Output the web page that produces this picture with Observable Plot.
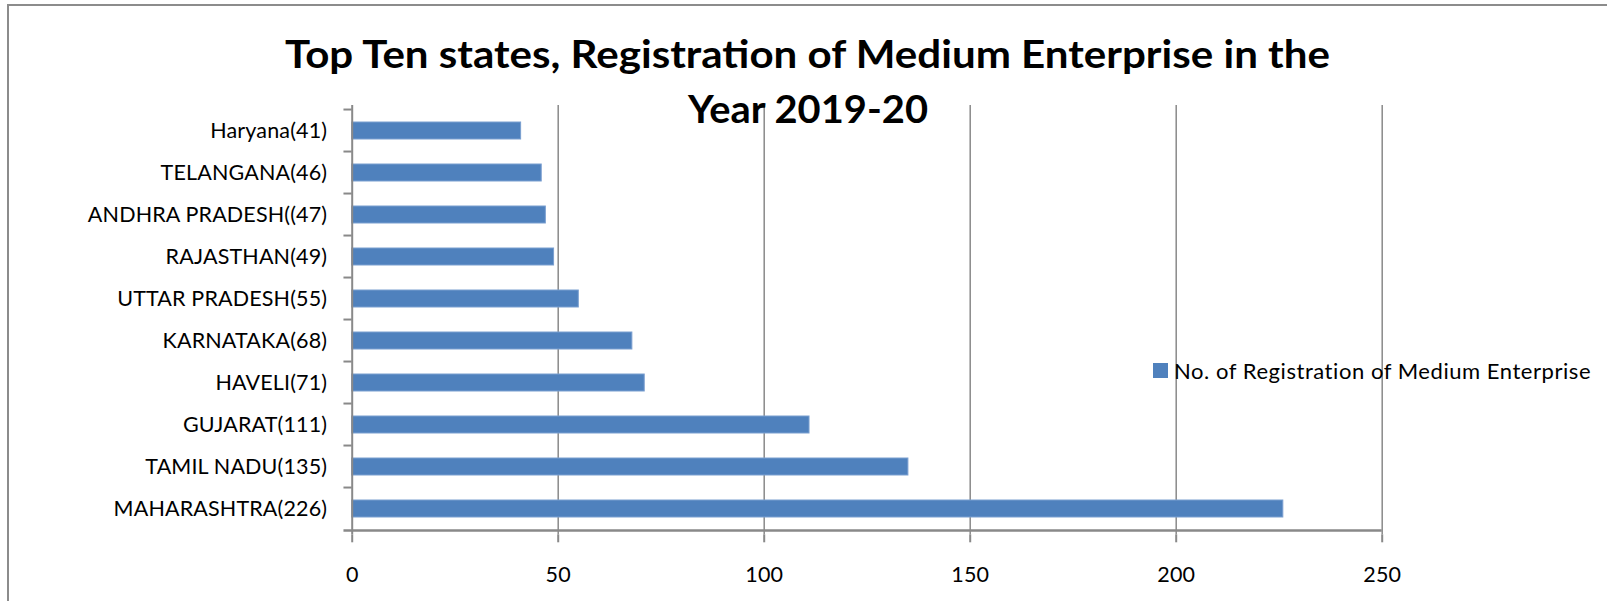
<!DOCTYPE html>
<html>
<head>
<meta charset="utf-8">
<script src="https://cdn.jsdelivr.net/npm/d3@7"></script>
<script src="https://cdn.jsdelivr.net/npm/@observablehq/plot@0.6"></script>
<style>
  html, body { margin: 0; background: #fff; overflow: hidden; }
  #wrap { position: relative; width: 1607px; height: 601px; overflow: hidden; font-family: Lato, sans-serif; background: #fff; }
  #frame { position: absolute; left: 7px; top: 4px; width: 1600px; height: 597px; border-top: 2px solid #8c8c8c; border-left: 2px solid #8c8c8c; box-sizing: border-box; }
  #chart { position: absolute; left: 0; top: 0; }
  #chart text { letter-spacing: 0.15px; }
  #title { position: absolute; left: 0; top: 0; pointer-events: none; }
  #legend { position: absolute; left: 1153px; top: 357px; display: flex; align-items: center; font-size: 22px; letter-spacing: 0.55px; color: #000; white-space: nowrap; }
  #legend .sw { width: 15px; height: 15px; background: #4F81BD; margin-right: 6px; }
</style>
</head>
<body>
<div id="wrap">
  <div id="frame"></div>
  <div id="chart"></div>
  <svg id="title" width="1607" height="140" font-family="Lato, sans-serif" font-weight="bold" fill="#000">
    <text id="t1" x="807.5" y="68" text-anchor="middle" font-size="39" textLength="1045" lengthAdjust="spacingAndGlyphs"></text>
    <text id="t2" x="808" y="123" text-anchor="middle" font-size="39" textLength="240" lengthAdjust="spacingAndGlyphs"></text>
  </svg>
  <div id="legend"><div class="sw"></div><span id="legtext"></span></div>
</div>
<script>
const titleLines = ["Top Ten states, Registration of Medium Enterprise in the", "Year 2019-20"];
const seriesName = "No. of Registration of Medium Enterprise";
const states = ["Haryana(41)", "TELANGANA(46)", "ANDHRA PRADESH((47)", "RAJASTHAN(49)", "UTTAR PRADESH(55)", "KARNATAKA(68)", "HAVELI(71)", "GUJARAT(111)", "TAMIL NADU(135)", "MAHARASHTRA(226)"];
const values = [41, 46, 47, 49, 55, 68, 71, 111, 135, 226];
const xTicks = [0, 50, 100, 150, 200, 250];

document.getElementById("t1").textContent = titleLines[0];
document.getElementById("t2").textContent = titleLines[1];
document.getElementById("legtext").textContent = seriesName;

const data = states.map((s, i) => ({state: s, value: values[i]}));

const W = 1607, H = 601;
const mL = 351.7, mR = 225.3, mT = 105, mB = 66.7;
const step = (H - mT - mB) / states.length;
const grey = "#898989";

const chart = Plot.plot({
  width: W,
  height: H,
  marginLeft: mL,
  marginRight: mR,
  marginTop: mT,
  marginBottom: mB,
  style: {fontFamily: "Lato, sans-serif", fontSize: "21px", color: "#000", background: "transparent"},
  x: {domain: [0, 250], axis: null, label: null},
  y: {domain: states, paddingInner: 0.595, paddingOuter: 0.2975, axis: null, label: null},
  marks: [
    Plot.ruleX(xTicks.filter(d => d > 0), {stroke: grey, strokeWidth: 1.5}),
    Plot.barX(data, {x: "value", y: "state", fill: "#4F81BD", stroke: "#7a9fd0", strokeWidth: 1}),
    Plot.ruleX([0], {stroke: grey, strokeWidth: 2}),
    Plot.ruleY(states, {y: d => d, dy: -step / 2, x1: -2, x2: 0, stroke: grey, strokeWidth: 2}),
    Plot.ruleY([states[states.length - 1]], {y: d => d, dy: step / 2, x1: -2, x2: 250, stroke: grey, strokeWidth: 2.5}),
    Plot.axisX({ticks: xTicks, tickSize: 8, tickPadding: 24, stroke: grey, strokeWidth: 2, fill: "#000", fontSize: 21.5, label: null, tickFormat: d => String(d)}),
    Plot.axisY({tickSize: 0, tickPadding: 25, fill: "#000", fontSize: 21.5, label: null})
  ]
});
document.getElementById("chart").appendChild(chart);
</script>
</body>
</html>
